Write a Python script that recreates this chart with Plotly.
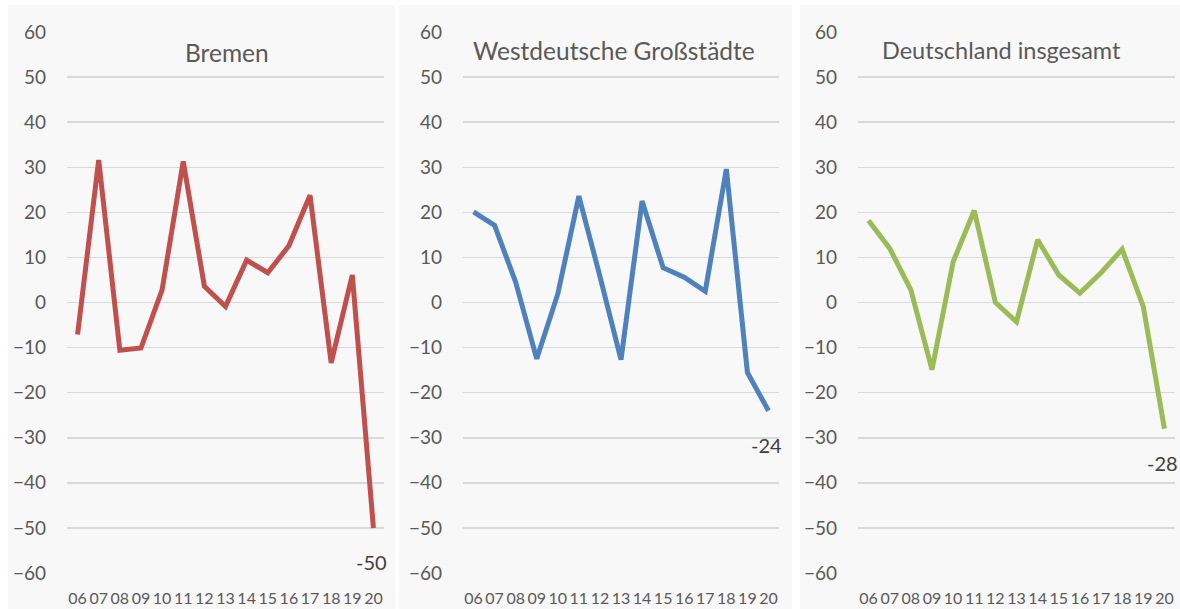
import plotly.graph_objects as go

years = ["06", "07", "08", "09", "10", "11", "12", "13", "14", "15", "16", "17", "18", "19", "20"]
titles = ["Bremen", "Westdeutsche Großstädte", "Deutschland insgesamt"]
bremen = [-7.1, 31.6, -10.6, -10.1, 2.8, 31.3, 3.6, -0.9, 9.4, 6.6, 12.6, 23.8, -13.4, 6.1, -50]
west = [20.1, 17.1, 4.5, -12.5, 1.9, 23.6, 5.8, -12.7, 22.5, 7.7, 5.6, 2.5, 29.6, -15.5, -24]
germany = [18.2, 12.0, 2.8, -14.9, 9.0, 20.4, 0.0, -4.3, 13.9, 6.1, 2.1, 6.6, 11.8, -0.9, -28]
end_labels = ["-50", "-24", "-28"]
y_ticks = list(range(-60, 61, 10))

series = [bremen, west, germany]
colors = ["#C0504D", "#4F81BD", "#9BBB59"]

W, H = 1180, 609
plot_x = [(67, 384), (463, 779), (858, 1175)]
panel_x = [(8, 395), (399, 792), (800, 1180)]
title_pos = [(227, 52), (614, 50), (1001, 50)]
title_size = [24.5, 24.5, 23.5]
top_px, bot_px = 32, 573


def fx(px):
    return min(max(px / W, 0), 1)


def fy(py):
    return min(max(1 - py / H, 0), 1)


fig = go.Figure()
font_fam = "Lato, 'Open Sans', sans-serif"

for i, (vals, col) in enumerate(zip(series, colors)):
    n = i + 1
    xa = "x" if n == 1 else f"x{n}"
    ya = "y" if n == 1 else f"y{n}"
    fig.add_trace(go.Scatter(
        x=years, y=vals, mode="lines",
        line=dict(color=col, width=5),
        xaxis=xa, yaxis=ya, showlegend=False, hoverinfo="skip",
        cliponaxis=False))
    x0, x1 = plot_x[i]
    fig.update_layout(**{
        ("xaxis" if n == 1 else f"xaxis{n}"): dict(
            domain=[fx(x0), fx(x1)], anchor=ya, type="category",
            range=[-0.5, len(years) - 0.5], automargin=False,
            tickmode="array", tickvals=years, ticktext=years, tickangle=0,
            showgrid=False, zeroline=False, showline=False, ticks="",
            tickfont=dict(family=font_fam, size=16, color="#595959"),
            ticklabelstandoff=14),
        ("yaxis" if n == 1 else f"yaxis{n}"): dict(
            domain=[fy(bot_px), fy(top_px)], anchor=xa,
            range=[-60, 60], tickmode="array", tickvals=y_ticks,
            automargin=False,
            showgrid=True, gridcolor="#D9D9D9", gridwidth=1.5,
            zeroline=False, showline=False, ticks="",
            tickfont=dict(family=font_fam, size=19, color="#595959"),
            ticklabelstandoff=20),
    })
    px0, px1 = panel_x[i]
    fig.add_shape(type="rect", xref="paper", yref="paper",
                  x0=fx(px0), x1=fx(px1), y0=0, y1=fy(5),
                  fillcolor="#F8F8F8", line=dict(width=0), layer="below")
    tx, ty = title_pos[i]
    fig.add_annotation(text=titles[i], xref="paper", yref="paper",
                       x=fx(tx), y=fy(ty), xanchor="center", yanchor="middle",
                       showarrow=False,
                       font=dict(family=font_fam, size=title_size[i], color="#595959"))
    fig.add_annotation(text=end_labels[i], xref=xa, yref=ya,
                       x=len(years) - 1, y=vals[-1], xanchor="center", yanchor="middle",
                       yshift=-34, xshift=-2, showarrow=False,
                       font=dict(family=font_fam, size=20, color="#404040"))

fig.update_layout(width=W, height=H, margin=dict(l=0, r=0, t=0, b=0, autoexpand=False),
                  paper_bgcolor="white", plot_bgcolor="rgba(0,0,0,0)")

fig.write_html(
    "out.html",
    config={"displayModeBar": False, "staticPlot": True},
    post_script="document.body.style.margin='0';document.body.style.overflow='hidden';",
)
